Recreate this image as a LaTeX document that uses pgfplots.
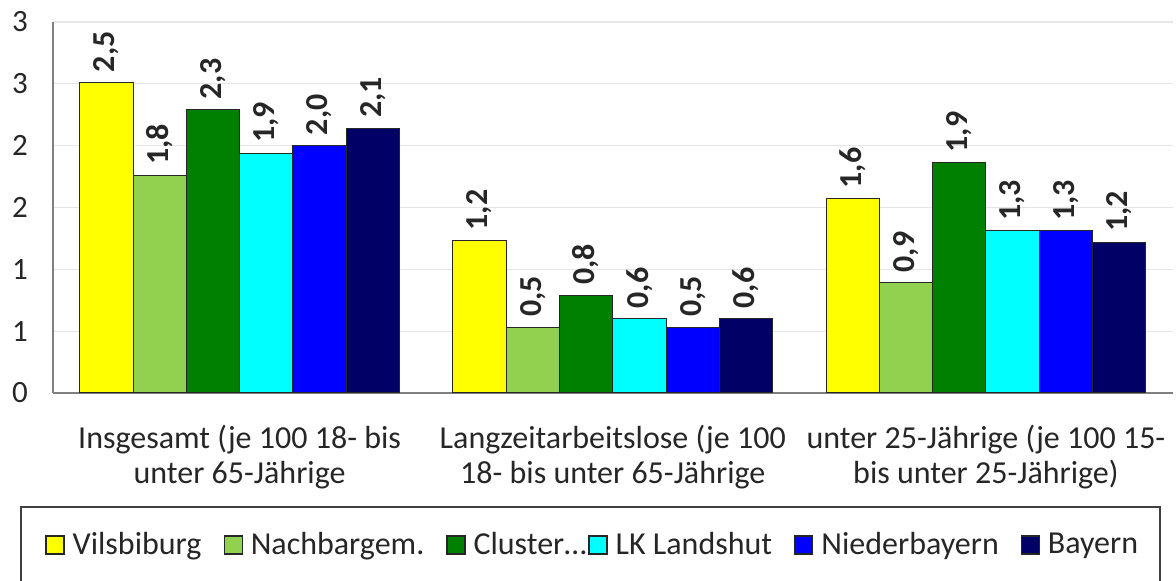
\documentclass[border=0pt]{standalone}
\usepackage{fontspec}
\setmainfont{Carlito}
\usepackage{pgfplots}
\pgfplotsset{compat=1.18}
\definecolor{cVil}{HTML}{FFFF00}
\definecolor{cNach}{HTML}{92D050}
\definecolor{cClu}{HTML}{008000}
\definecolor{cLK}{HTML}{00FFFF}
\definecolor{cNie}{HTML}{0000FF}
\definecolor{cBay}{HTML}{000066}
\definecolor{gridc}{HTML}{E6E6E6}
\definecolor{axc}{HTML}{7F7F7F}
\begin{document}
\begin{tikzpicture}
\useasboundingbox (-26.5pt,-94pt) rectangle (561.5pt,196.5pt);
\begin{axis}[
  at={(0,0)}, anchor=south west,
  scale only axis, width=559.75pt, height=185.5pt,
  xmin=-0.5, xmax=2.5, ymin=0, ymax=3,
  enlargelimits=false, clip=false,
  ybar=0pt, bar width=0.1428,
  axis x line*=bottom, axis y line*=left,
  axis line style={-, draw=axc, line width=0.7pt},
  major tick length=0pt,
  ytick={0,0.5,1,1.5,2,2.5,3},
  yticklabels={0,1,1,2,2,3,3},
  yticklabel style={font=\fontsize{15.5}{17}\selectfont, text=black!85, xshift=-9pt},
  ymajorgrids, grid style={draw=gridc, line width=0.6pt},
  xtick={0,1,2},
  xticklabels={{Insgesamt (je 100 18- bis\\unter 65-Jährige},
               {Langzeitarbeitslose (je 100\\18- bis unter 65-Jährige},
               {unter 25-Jährige (je 100 15-\\bis unter 25-Jährige)}},
  xticklabel style={align=center, font=\fontsize{16}{17.5}\selectfont, text=black!85, yshift=-12.5pt},
  nodes near coords,
  every node near coord/.append style={rotate=90, anchor=west, inner sep=5pt,
     font=\bfseries\fontsize{16}{17}\selectfont, text=black!85},
  /pgf/number format/.cd, fixed, fixed zerofill, precision=1, use comma, assume math mode=true,
  /pgfplots/.cd,
  legend columns=6,
  legend style={at={(axis description cs:-0.0071,-0.4097)}, anchor=west, draw=none, fill=none,
     inner sep=0pt, font=\fontsize{16}{17}\selectfont,
     nodes={inner sep=0.5pt, text=black!85},
     /tikz/every odd column/.append style={column sep=3.5pt},
     /tikz/every even column/.append style={column sep=10.5pt}},
  every axis plot post/.append style={draw=black!85, line width=0.5pt,
     legend image code/.code={\draw[##1, draw=black!85, line width=0.6pt] (0pt,-4.5pt) rectangle (9pt,4.5pt);}},
]
\addplot[fill=cVil] coordinates {(0,2.51) (1,1.23) (2,1.57)};
\addlegendentry{Vilsbiburg}
\addplot[fill=cNach] coordinates {(0,1.76) (1,0.53) (2,0.89)};
\addlegendentry{Nachbargem.}
\addplot[fill=cClu] coordinates {(0,2.29) (1,0.79) (2,1.86)};
\addlegendentry{Cluster…\hspace*{-10pt}}
\addplot[fill=cLK] coordinates {(0,1.94) (1,0.60) (2,1.31)};
\addlegendentry{LK Landshut}
\addplot[fill=cNie] coordinates {(0,2.00) (1,0.53) (2,1.31)};
\addlegendentry{Niederbayern}
\addplot[fill=cBay] coordinates {(0,2.14) (1,0.60) (2,1.22)};
\addlegendentry{Bayern}
\end{axis}
\draw[draw=black!75, line width=0.7pt] (-16pt,-57pt) rectangle (553.5pt,-110pt);
\end{tikzpicture}
\end{document}
